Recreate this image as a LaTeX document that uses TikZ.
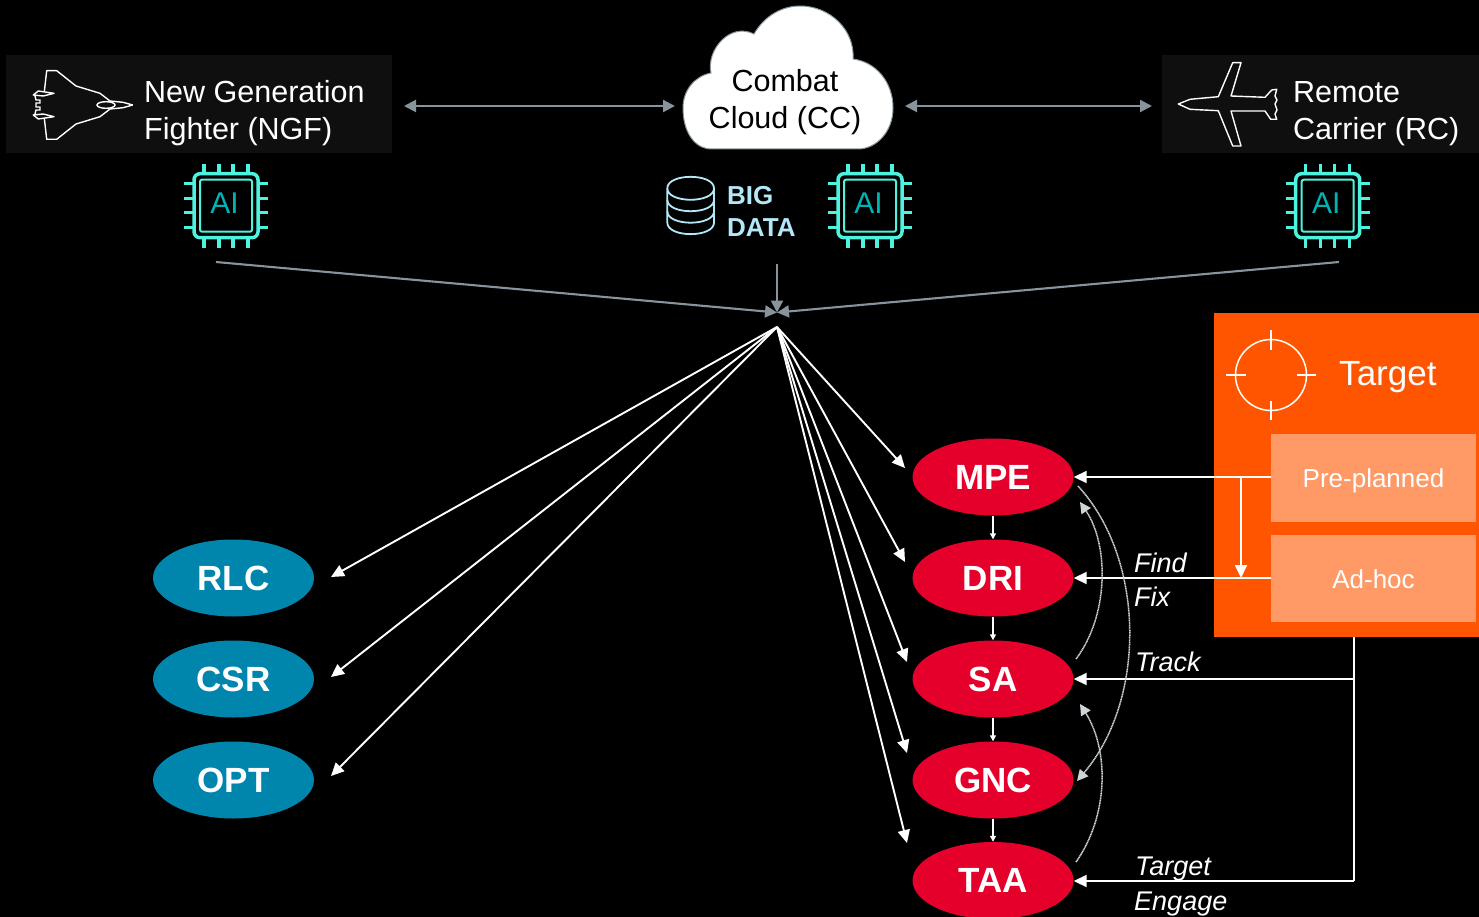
\documentclass[tikz,border=0pt]{standalone}
\usepackage{fontspec}
\setmainfont{Liberation Sans}
\usetikzlibrary{arrows.meta,shapes.geometric}
\definecolor{rouge}{HTML}{E4002B}
\definecolor{bleu}{HTML}{0085AD}
\definecolor{orange}{HTML}{FF5500}
\definecolor{saumon}{HTML}{FF9966}
\definecolor{gris}{HTML}{87949C}
\definecolor{turquoise}{HTML}{4DF3DE}
\definecolor{sarcelle}{HTML}{00B4B4}
\definecolor{ciel}{HTML}{B2E8F8}
\newcommand{\fsz}[1]{\fontsize{#1}{37}\selectfont}
\tikzset{
	whitearrow/.style={white,line width=1.9,-{Triangle[length=13,width=12]}},
	smallarrow/.style={white,line width=1.4,-{Triangle[length=6,width=6]}},
	greyarrow/.style={gris,line width=2.1,-{Triangle[length=12,width=12]}},
	loopback/.style={gris!40!white,line width=1.5,dash pattern=on 1.2 off 0.5,-{Triangle[length=11,width=11]}},
	phase/.style={ellipse,minimum width=161,minimum height=77,inner sep=0,text=white,font=\bfseries\fsz{35}},
	note/.style={text=white,anchor=west,inner sep=0,font=\itshape\fsz{27}},
	darkbox/.style={fill=black!94!white,minimum height=98,inner sep=0},
	paleorange/.style={fill=saumon,text=white,minimum width=205,inner sep=0,text height=19.5,text depth=0,font=\fsz{26}}
}
%chip macro: name, x, y
\newcommand{\aichip}[3]{
	\draw[turquoise,line width=3.5,rounded corners=6] (#2-32,#3-32) rectangle (#2+32,#3+32);
	\draw[turquoise,line width=2,rounded corners=2] (#2-26,#3-26) rectangle (#2+26,#3+26);
	\foreach \p in {-22,-7,7,22}{
		\draw[turquoise,line width=3.5] (#2+\p,#3-42) -- (#2+\p,#3-33);
		\draw[turquoise,line width=3.5] (#2+\p,#3+33) -- (#2+\p,#3+42);
		\draw[turquoise,line width=3.5] (#2-42,#3+\p) -- (#2-33,#3+\p);
		\draw[turquoise,line width=3.5] (#2+33,#3+\p) -- (#2+42,#3+\p);
	}
	\node[text=sarcelle,inner sep=0,font=\fsz{30}] (#1) at (#2-1.5,#3-2.5) {AI};
}
\begin{document}
\begin{tikzpicture}[x=1pt,y=-1pt]
	\useasboundingbox (0,0) rectangle (1479,917);
	\fill[black] (0,0) rectangle (1479,917);

	%NGF
	\node[darkbox,minimum width=386] (ngf) at (199,104) {};
	\node[text=white,anchor=west,align=left,inner sep=0,font=\fsz{30.5}] (ngftext) at (144,113) {New Generation\\Fighter (NGF)};
	\foreach \s in {1,-1}{
		\draw[white,line width=1.4,line join=round] (132.7,105) -- (123,{105-\s*2.7}) -- (110,{105-\s*4}) -- (100,{105-\s*11.7}) -- (76,{105-\s*19}) -- (56.7,{105-\s*34.3}) -- (46.7,{105-\s*34.3}) -- (44.3,{105-\s*13});
		\draw[white,line width=1.4,line join=round] (33.3,{105-\s*10}) -- (38.3,{105-\s*14}) -- (54,{105-\s*11.7}) -- (43.3,{105-\s*9}) -- cycle;
		\draw[white,line width=1.4] (35,{105-\s*9}) -- (36,{105-\s*5}) -- (40,{105-\s*5}) -- (40,{105-\s*2}) -- (36,{105-\s*2}) -- (36,105);
	}
	\draw[white,line width=1.4] (106,105) ellipse [x radius=9pt,y radius=3.3pt];
	\aichip{aingf}{226}{205.7}

	%RC
	\node[darkbox,minimum width=317] (rc) at (1320.5,104) {};
	\node[text=white,anchor=west,align=left,inner sep=0,font=\fsz{30.5}] (rctext) at (1293,114) {Remote\\Carrier (RC)};
	\draw[white,line width=1.4,line join=round] (1178.3,104) -- (1190,99.3) -- (1218.3,96.7) -- (1232.7,62.7) -- (1241,62.7) -- (1231,96) -- (1265,97.3) -- (1271.7,90) -- (1276.7,89.3) -- (1275,96) -- (1277,100) -- (1275,104) -- (1277,110) -- (1275,114) -- (1276.7,119.3) -- (1270.7,119.3) -- (1265,111) -- (1231,111) -- (1241,146) -- (1232.7,146) -- (1218.3,110.7) -- (1190,109.3) -- cycle;
	\aichip{airc}{1327.7}{205.7}

	%CLOUD
	\draw[fill=white,draw=gris,line width=1] (712,149) .. controls (693,149) and (683,130) .. (683,108) .. controls (683,90) and (695,76) .. (711,73) .. controls (706,50) and (730,22) .. (754,34) .. controls (765,15) and (783,6) .. (800,6) .. controls (830,6) and (855,30) .. (853,59) .. controls (876,62) and (893,82) .. (893,108) .. controls (893,132) and (876,149) .. (858,149) -- cycle;
	\node[text=black,align=center,inner sep=0,font=\fsz{30.5}] (cloud) at (785,102) {Combat\\Cloud (CC)};
	\aichip{aicc}{870}{205.7}

	%BIG DATA
	\draw[ciel,line width=1.8] (667.3,188.3) .. controls (667.3,173) and (714,173) .. (714,188.3) .. controls (714,203.6) and (667.3,203.6) .. (667.3,188.3) -- (667.3,222.6) .. controls (667.3,238) and (714,238) .. (714,222.6) -- (714,188.3);
	\draw[ciel,line width=1.8] (667.3,199.8) .. controls (667.3,215) and (714,215) .. (714,199.8);
	\draw[ciel,line width=1.8] (667.3,211.3) .. controls (667.3,226.5) and (714,226.5) .. (714,211.3);
	\node[text=ciel,anchor=west,align=left,inner sep=0,font=\bfseries\fontsize{26}{32}\selectfont] (bigdata) at (727,211) {BIG\\DATA};

	%TOP LINKS
	\coordinate (ngfe) at (404,106);
	\coordinate (cloudw) at (675,106);
	\coordinate (cloude) at (905,106);
	\coordinate (rcw) at (1152,106);
	\draw[greyarrow,{Triangle[length=12,width=12]}-{Triangle[length=12,width=12]}] (ngfe) -- (cloudw);
	\draw[greyarrow,{Triangle[length=12,width=12]}-{Triangle[length=12,width=12]}] (cloude) -- (rcw);

	%CONVERGING
	\coordinate (conv) at (777,312.5);
	\coordinate (froma) at (216,262);
	\coordinate (fromb) at (777,264);
	\coordinate (fromc) at (1339,262);
	\draw[greyarrow] (froma) -- (conv);
	\draw[greyarrow] (fromb) -- (conv);
	\draw[greyarrow] (fromc) -- (conv);

	%PHASES
	\node[phase,fill=rouge] (mpe) at (993,477) {MPE};
	\node[phase,fill=rouge] (dri) at (993,578) {DRI};
	\node[phase,fill=rouge] (sa) at (993,679) {SA};
	\node[phase,fill=rouge] (gnc) at (993,780) {GNC};
	\node[phase,fill=rouge] (taa) at (993,880.5) {TAA};
	\node[phase,fill=bleu] (rlc) at (233.5,578) {RLC};
	\node[phase,fill=bleu] (csr) at (233.5,679) {CSR};
	\node[phase,fill=bleu] (opt) at (233.5,780) {OPT};
	\draw[smallarrow] (mpe) -- (dri);
	\draw[smallarrow] (dri) -- (sa);
	\draw[smallarrow] (sa) -- (gnc);
	\draw[smallarrow] (gnc) -- (taa);

	%FAN
	\coordinate (hub) at (777,327);
	\foreach \nom/\x/\y in {rlc/331/577,csr/331/677,opt/331/776,mpe/905/468,dri/905/562,sa/907/662,gnc/907/753,taa/907/843}{
		\coordinate (\nom in) at (\x,\y);
		\draw[whitearrow] (hub) -- (\nom in);
	}

	%TARGET
	\node[fill=orange,minimum width=265,minimum height=324,inner sep=0] (target) at (1346.5,475) {};
	\draw[white,line width=1.5] (1271,375) circle (35.5pt);
	\draw[white,line width=1.5] (1271,330) -- (1271,349.5);
	\draw[white,line width=1.5] (1271,400.5) -- (1271,420);
	\draw[white,line width=1.5] (1226,375) -- (1245.5,375);
	\draw[white,line width=1.5] (1296.5,375) -- (1316,375);
	\node[text=white,anchor=west,inner sep=0,font=\fsz{35}] (targettext) at (1339,377.5) {Target};
	\node[paleorange,minimum height=88] (pre) at (1373.5,478) {Pre-planned};
	\node[paleorange,minimum height=87] (adhoc) at (1373.5,578.5) {Ad-hoc};

	%LINKS TO PHASES
	\coordinate (prejoin) at (1241,477);
	\coordinate (adjoin) at (1241,578);
	\coordinate (trunk) at (1354,637);
	\coordinate (tracktee) at (1354,679);
	\coordinate (engageknee) at (1354,881);
	\draw[whitearrow] (pre.west |- prejoin) -- (mpe.east);
	\draw[whitearrow] (adhoc.west |- adjoin) -- (dri.east);
	\draw[whitearrow] (prejoin) -- (adjoin);
	\draw[white,line width=1.9] (trunk) -- (engageknee);
	\draw[whitearrow] (tracktee) -- (sa.east);
	\draw[whitearrow] (engageknee) -- (engageknee -| taa.east);

	%LOOPS
	\coordinate (loopa) at (1076,659);
	\coordinate (loopb) at (1080,502);
	\coordinate (loopc) at (1078,486);
	\coordinate (loopd) at (1077,781);
	\coordinate (loope) at (1076,862);
	\coordinate (loopf) at (1080,704);
	\draw[loopback] (loopa) .. controls (1109,615) and (1109,545) .. (loopb);
	\draw[loopback] (loopc) .. controls (1146,560) and (1146,700) .. (loopd);
	\draw[loopback] (loope) .. controls (1109,815) and (1109,750) .. (loopf);

	%NOTES
	\node[note] (find) at (1134,563) {Find};
	\node[note] (fix) at (1134,597) {Fix};
	\node[note] (track) at (1135,662) {Track};
	\node[note] (targetnote) at (1135,869) {Target};
	\node[note] (engage) at (1134,904) {Engage};
\end{tikzpicture}
\end{document}
